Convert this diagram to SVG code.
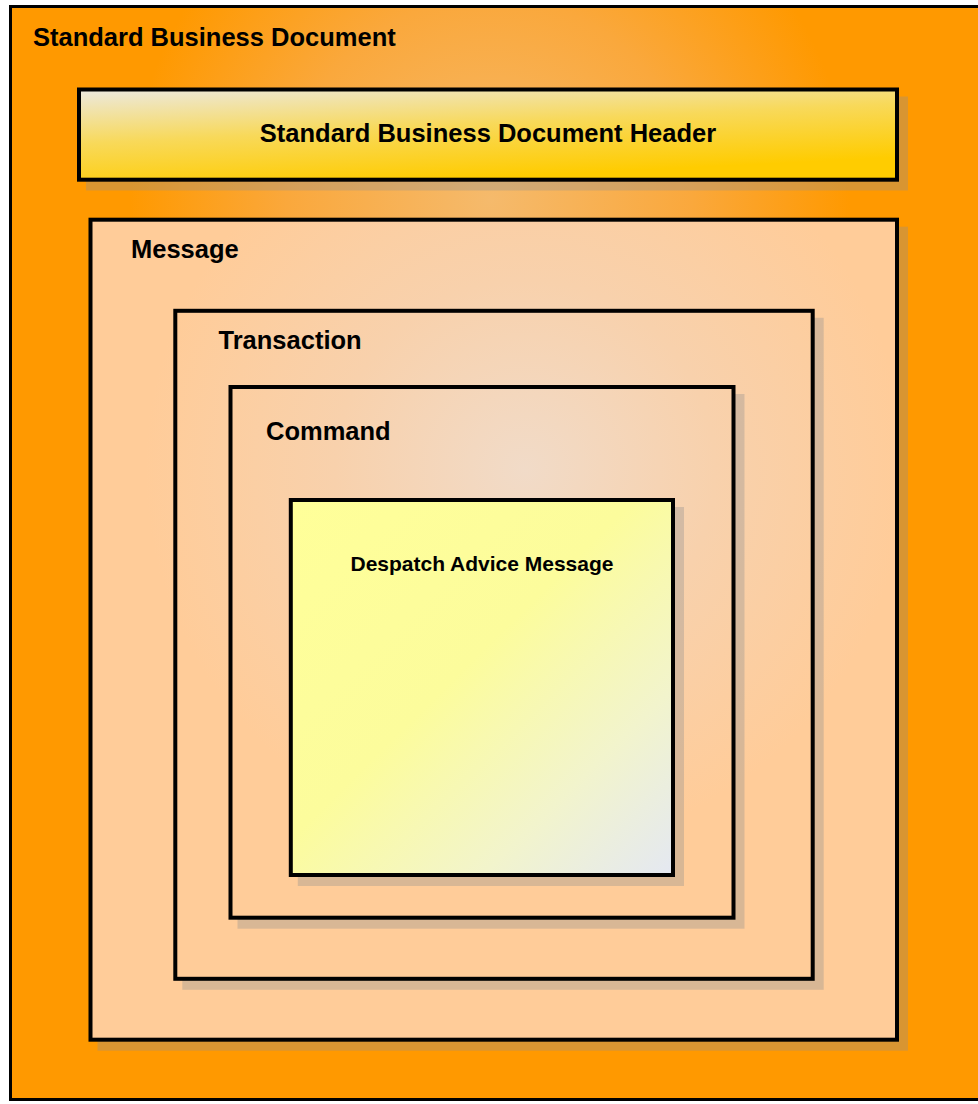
<svg xmlns="http://www.w3.org/2000/svg" width="978" height="1104" viewBox="0 0 978 1104">
  <defs>
    <radialGradient id="gOuter" gradientUnits="userSpaceOnUse" cx="490" cy="200" r="450">
      <stop offset="0" stop-color="#F5BA6C"/>
      <stop offset="0.45" stop-color="#FAA83C"/>
      <stop offset="0.8" stop-color="#FF9900"/>
      <stop offset="1" stop-color="#FF9900"/>
    </radialGradient>
    <radialGradient id="gPeach" gradientUnits="userSpaceOnUse" cx="525" cy="470" r="380">
      <stop offset="0" stop-color="#F1DBC8"/>
      <stop offset="0.5" stop-color="#F8D1AC"/>
      <stop offset="1" stop-color="#FFCC99"/>
    </radialGradient>
    <linearGradient id="gHeader" x1="0" y1="0" x2="0.45" y2="1">
      <stop offset="0" stop-color="#ECE9E0"/>
      <stop offset="0.5" stop-color="#F8D95A"/>
      <stop offset="1" stop-color="#FFCC00"/>
    </linearGradient>
    <linearGradient id="gDesp" x1="0" y1="0" x2="1" y2="1">
      <stop offset="0" stop-color="#FFFF99"/>
      <stop offset="0.45" stop-color="#FCFC9C"/>
      <stop offset="0.75" stop-color="#F2F4CC"/>
      <stop offset="1" stop-color="#E4E8F2"/>
    </linearGradient>
  </defs>
  <style>
    .box { stroke: #000; stroke-width: 4; stroke-linejoin: miter; }
    .shadow { fill: #8E8E8E; fill-opacity: 0.35; }
    .lbl { font-family: "Liberation Sans", Arial, sans-serif; font-weight: bold; font-size: 25.5px; fill: #000; }
    .small { font-size: 21px; }
  </style>
  <rect x="0" y="0" width="978" height="1104" fill="#FFFFFF"/>

  <g id="standard-business-document">
    <rect x="10.5" y="6.5" width="990" height="1093" fill="url(#gOuter)" stroke="#000" stroke-width="3"/>
    <text class="lbl" x="33" y="45.5">Standard Business Document</text>
  </g>

  <g id="sbd-header">
    <rect class="shadow" x="86" y="96.5" width="822" height="94"/>
    <rect class="box" x="79" y="89.5" width="818" height="90.2" fill="url(#gHeader)"/>
    <text class="lbl" x="488" y="141.5" text-anchor="middle">Standard Business Document Header</text>
  </g>

  <g id="message">
    <rect class="shadow" x="97.5" y="226.7" width="810.5" height="824"/>
    <rect class="box" x="90.5" y="219.7" width="806.5" height="820" fill="url(#gPeach)"/>
    <text class="lbl" x="131" y="258">Message</text>
  </g>

  <g id="transaction">
    <rect class="shadow" x="182.3" y="317.8" width="641.4" height="672"/>
    <rect class="box" x="175.3" y="310.8" width="637.4" height="668" fill="url(#gPeach)"/>
    <text class="lbl" x="218.5" y="349">Transaction</text>
  </g>

  <g id="command">
    <rect class="shadow" x="237.5" y="394" width="507" height="534.7"/>
    <rect class="box" x="230.5" y="387" width="503" height="530.7" fill="url(#gPeach)"/>
    <text class="lbl" x="266" y="440">Command</text>
  </g>

  <g id="despatch-advice-message">
    <rect class="shadow" x="297.8" y="507" width="386.2" height="379"/>
    <rect class="box" x="290.8" y="500" width="382.2" height="375" fill="url(#gDesp)"/>
    <text class="lbl small" x="482" y="570.5" text-anchor="middle">Despatch Advice Message</text>
  </g>

  <g id="connectors"/>
</svg>
